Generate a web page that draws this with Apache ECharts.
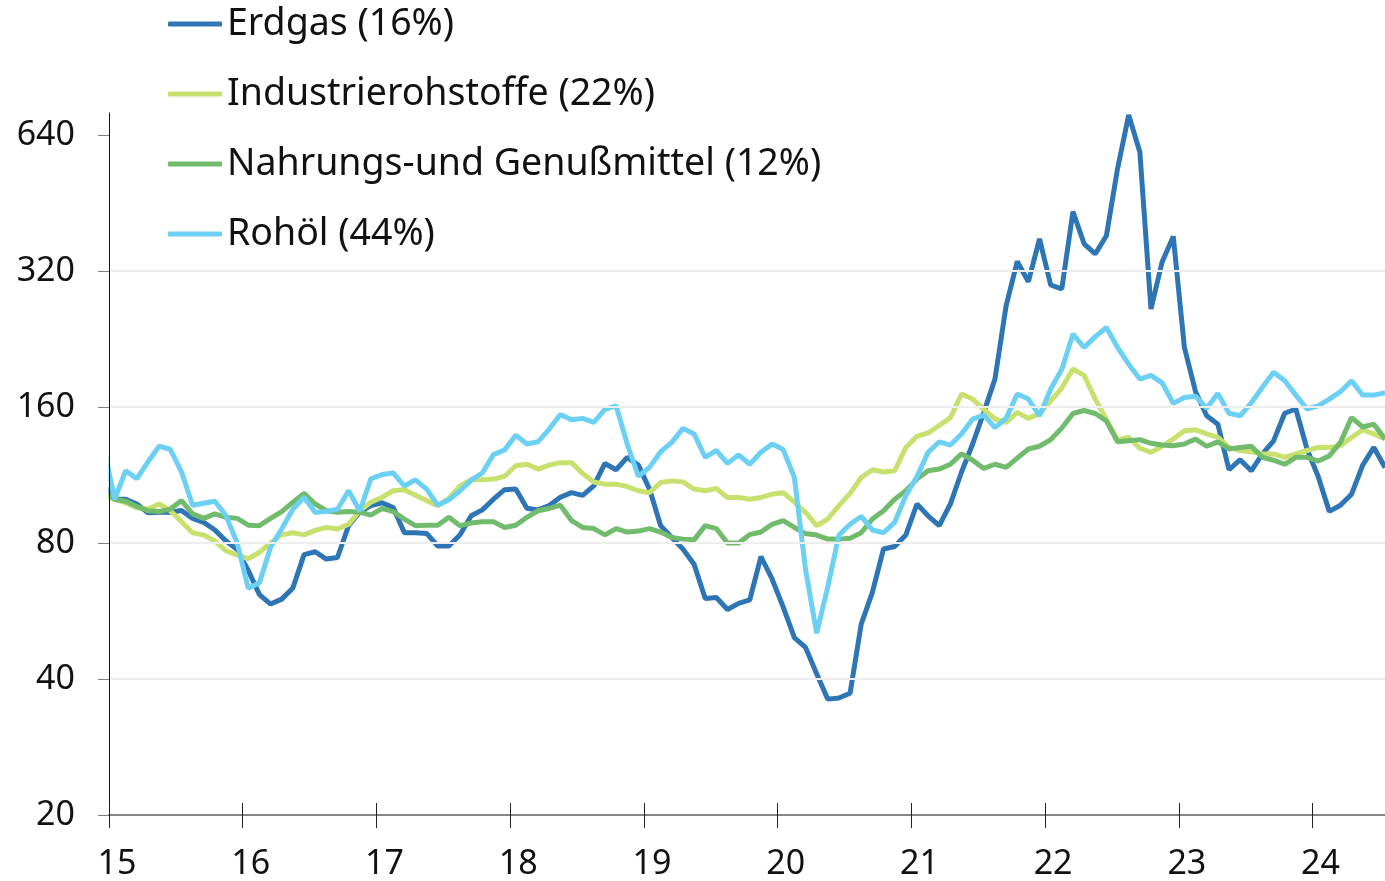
<!DOCTYPE html>
<html>
<head>
<meta charset="utf-8">
<script src="https://cdn.jsdelivr.net/npm/echarts@6/dist/echarts.min.js"></script>
<style>
html,body{margin:0;padding:0;background:#fff;}
#chart{width:1385px;height:881px;}
</style>
</head>
<body>
<div id="chart"></div>
<script>
// Monthly index values, Dec 2014 first, then Jan 2015 ... Jul 2024
const seriesNames = ['Erdgas (16%)', 'Industrierohstoffe (22%)', 'Nahrungs-und Genußmittel (12%)', 'Rohöl (44%)'];

const erdgas = [108,
  100,100,97.6,93.3,93.6,93.6,94.4,90.7,88.9,85.5,80.8,77.4,
  69.5,61.5,58.6,60.1,63.6,75.4,76.5,73.7,74.3,87.4,93.6,96.8,
  98.2,95.9,84.3,84.3,84,78.8,78.8,83.4,91.9,94.7,100,105,
  105.3,95.5,94.7,96.8,101,103.4,102,107,120,116.2,123.8,119,
  105.3,87.4,82.3,77.6,71.8,60.3,60.6,57,58.8,59.9,74.6,66.6,
  57.7,49.4,47,41.1,36.1,36.3,37.2,52.9,62.2,77.6,78.6,83.3,
  97.6,91.9,87.4,97.6,114.9,132.5,155.7,184.5,268,336,303,377,
  298,292,433,367.6,349.3,383,539,709,587,263.7,335,381.5,
  216.7,173,153,146.6,116.2,122.3,115.6,126,134.6,155,158.4,129.2,
  112.3,94,97,102.6,119,130.2,117.6];

const industrie = [102,
  100,98.2,95.7,95.1,97.6,94.3,89.2,84.3,83.3,80.8,76.9,75.2,
  73.9,76.3,80,83.4,84.3,83.4,85.3,86.6,85.9,88,94.3,98.5,
  101,104.4,105,102,99.3,96.8,100.4,107,110.4,110.4,110.8,112.4,
  118.6,119.5,116.6,119,120.5,120.5,114,109.2,108,108,106.7,104.4,
  103.4,108.9,109.8,109.2,105.3,104.4,105.6,100.9,100.9,100,100.9,102.6,
  103.4,98.5,93.5,87.4,90.4,96.8,103,111.7,116.2,114.9,115.6,130.2,
  137.8,140.2,145.6,151.6,171,166.6,158,150.5,148,155.7,151,154.8,
  165,176.2,194.2,188,166.6,150,135.4,137,129.7,127,131,136,
  141.8,142.5,139.5,137,130.2,128.2,127.4,126,126,123.8,126,128.2,
  130.2,130.2,131.3,137,142.5,139.5,136];

const nahrung = [104,
  100,99,96.4,94.3,93.9,95.1,99.3,92.8,90.7,92.8,91.2,90.7,
  87.6,87.4,90.7,93.9,98.5,103,97.6,94.3,93.6,93.9,93.6,92.2,
  95.4,93.9,90.4,87.4,87.6,87.6,91.2,87.4,88.6,89.2,89.2,86.6,
  87.6,91.2,94.3,95.4,97,89.7,86.6,86.1,83.4,86.1,84.6,85,
  86.1,84.6,82.3,81.6,81.3,87.4,86.1,80,80,83.5,84.6,88,
  89.7,86.6,84,83.3,81.6,81.6,82,84.3,90.4,94.3,100,104.4,
  110.8,115.6,116.6,119.5,126,122,117,119.5,117.6,123.3,129.2,131,
  135.5,143.8,154.8,157.2,154.8,149,134,134.7,135.5,133,131.8,131.3,
  132.5,135.9,131,134,129.2,130.2,131,123.8,122,119.5,123.8,123.8,
  121.5,124.7,133.6,151.6,144.5,146.6,135.9];

const rohoel = [132,
  100,115.6,111,121,131,129,115,97,98,99,92,80,
  63.5,65.3,78.3,86,95,101,93.5,94,95,104.4,94.2,111,
  113.4,114.3,107,110.4,105.3,97,99.7,104.4,110.2,114.3,125.5,128.6,
  138.5,132.5,134,143,154,150,151,148,158,161,132.5,112.4,
  117.6,127.4,133.6,143.5,139.5,123.8,128.2,120.1,125.3,119.5,127,132.5,
  128.8,111.7,70,50.5,64,83.3,88,91.6,85.5,84.3,88.9,101.8,
  112.3,127,134,131.8,139.5,150.5,153.5,144,151,171,166.6,153,
  175.4,194,232,216.7,229,240,216.7,199,184.5,188,181,163,
  168,169,159,171.5,155,153,163.5,177,191,183,170,158.4,
  161,166.6,173,183,170,170,172];

const yTickValues = [20, 40, 80, 160, 320, 640];
const xTickLabels = ['15','16','17','18','19','20','21','22','23','24'];

const colors = ['#2E75B6', '#C8E06E', '#70BB6C', '#6CD0F5'];
const FONT = 'Noto Sans';

// x = months since 1 Jan 2015, points placed mid-month; first point is Dec 2014
function pairs(arr) { return arr.map((v, i) => [i - 0.5, v]); }
const xTicks = xTickLabels.map((_, k) => k * 12);
const allSeries = [erdgas, industrie, nahrung, rohoel];

const chart = echarts.init(document.getElementById('chart'), null, {renderer: 'canvas'});
chart.setOption({
  animation: false,
  backgroundColor: '#ffffff',
  grid: {left: 109, right: 0, top: 113, bottom: 66, containLabel: false},
  // mask so the clipped line stub before Jan 2015 does not show left of the y axis
  graphic: [{
    type: 'rect', z: 50, silent: true,
    shape: {x: 0, y: 100, width: 108.5, height: 714},
    style: {fill: '#ffffff'}
  }],
  legend: {
    orient: 'vertical', left: 163, top: -1,
    itemWidth: 54, itemHeight: 5, itemGap: 30,
    icon: 'roundRect', selectedMode: false,
    textStyle: {fontFamily: FONT, fontSize: 37.5, color: '#111', lineHeight: 40},
    data: seriesNames
  },
  xAxis: [{
    type: 'value', min: 0, max: 114.5, interval: 12, z: 60,
    axisLine: {onZero: false, lineStyle: {color: '#868686', width: 2}},
    axisTick: {show: true, length: 13, customValues: xTicks, lineStyle: {color: '#222', width: 1}},
    axisLabel: {customValues: xTicks, formatter: v => xTickLabels[Math.round(v / 12)],
      fontFamily: FONT, fontSize: 34, color: '#111', margin: 32, padding: [0, 0, 0, 16]},
    splitLine: {show: false}
  }, {
    type: 'value', min: 0, max: 114.5, interval: 12, position: 'bottom', z: 60,
    axisLine: {show: false, onZero: false},
    axisTick: {show: true, inside: true, length: 12, customValues: xTicks, lineStyle: {color: '#222', width: 1}},
    axisLabel: {show: false},
    splitLine: {show: false}
  }],
  yAxis: {
    type: 'log', logBase: 2, min: 20, max: 716, z: 60,
    axisLine: {show: true, lineStyle: {color: '#111', width: 1}},
    axisTick: {show: true, length: 11, customValues: yTickValues, lineStyle: {color: '#7f7f7f', width: 1}},
    axisLabel: {customValues: yTickValues, formatter: v => String(Math.round(v)),
      fontFamily: FONT, fontSize: 34, color: '#111', margin: 34},
    splitLine: {show: true, showMinLine: false, showMaxLine: false, lineStyle: {color: '#ededed', width: 2}}
  },
  series: allSeries.map((arr, k) => ({
    name: seriesNames[k],
    type: 'line',
    xAxisIndex: 0,
    data: pairs(arr),
    symbol: 'none',
    showSymbol: false,
    clip: true,
    color: colors[k],
    lineStyle: {width: 5, color: colors[k]},
    emphasis: {disabled: true},
    z: 2 + k
  }))
});
</script>
</body>
</html>
